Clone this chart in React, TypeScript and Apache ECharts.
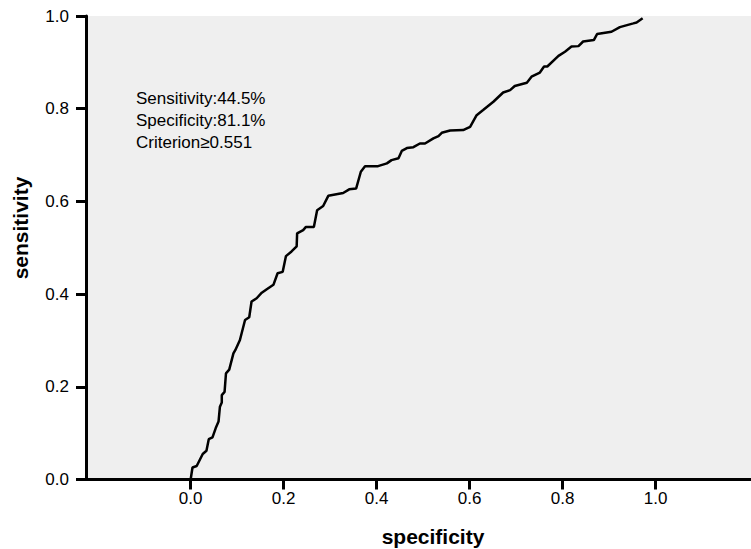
import React, { useEffect, useRef } from "react";
import * as echarts from "echarts";

const specificity: number[] = [
  0.0, 0.004, 0.013, 0.026, 0.034, 0.039, 0.047, 0.054, 0.06, 0.063, 0.067, 0.067, 0.073, 0.076, 0.083,
  0.092, 0.096, 0.106, 0.117, 0.126, 0.131, 0.142, 0.153, 0.163, 0.178, 0.187, 0.198, 0.205, 0.217,
  0.228, 0.229, 0.242, 0.248, 0.265, 0.272, 0.285, 0.296, 0.328, 0.341, 0.356, 0.366, 0.375, 0.403,
  0.422, 0.432, 0.447, 0.454, 0.465, 0.479, 0.493, 0.504, 0.522, 0.533, 0.54, 0.558, 0.586, 0.601,
  0.615, 0.629, 0.651, 0.672, 0.687, 0.697, 0.723, 0.733, 0.751, 0.76, 0.767, 0.791, 0.805, 0.819,
  0.834, 0.844, 0.867, 0.874, 0.905, 0.923, 0.952, 0.959, 0.972,
];
const sensitivity: number[] = [
  0.0, 0.026, 0.029, 0.055, 0.062, 0.087, 0.091, 0.111, 0.125, 0.157, 0.166, 0.182, 0.189, 0.229, 0.237,
  0.272, 0.279, 0.301, 0.344, 0.35, 0.384, 0.391, 0.403, 0.41, 0.42, 0.445, 0.448, 0.482, 0.492,
  0.503, 0.531, 0.538, 0.545, 0.545, 0.581, 0.59, 0.612, 0.618, 0.626, 0.628, 0.664, 0.676, 0.676,
  0.682, 0.689, 0.693, 0.709, 0.715, 0.717, 0.725, 0.725, 0.736, 0.741, 0.748, 0.753, 0.754, 0.761,
  0.786, 0.797, 0.815, 0.835, 0.84, 0.849, 0.856, 0.869, 0.878, 0.891, 0.891, 0.914, 0.923, 0.934,
  0.935, 0.945, 0.948, 0.961, 0.966, 0.976, 0.984, 0.986, 0.995,
];
const xTicks: number[] = [0, 0.2, 0.4, 0.6, 0.8, 1.0];
const annotationLines: string[] = ["Sensitivity:44.5%", "Specificity:81.1%", "Criterion\u22650.551"];
const xName = "specificity";
const yName = "sensitivity";

const FONT = "'Liberation Sans', Arial, sans-serif";

export default function App() {
  const ref = useRef<HTMLDivElement>(null);
  useEffect(() => {
    if (!ref.current) return;
    const chart = echarts.init(ref.current, undefined, { renderer: "svg" });
    const data = specificity.map((x, i) => [x, sensitivity[i]]);
    chart.setOption({
      animation: false,
      backgroundColor: "#ffffff",
      grid: {
        left: 86,
        right: 0,
        top: 16,
        bottom: 69.5,
        show: true,
        backgroundColor: "#efefef",
        borderWidth: 0,
      },
      xAxis: {
        type: "value",
        min: -0.225,
        max: 1.205,
        splitLine: { show: false },
        axisLine: { show: true, onZero: false, lineStyle: { color: "#000", width: 3 } },
        axisTick: {
          show: true,
          length: 10,
          customValues: xTicks,
          lineStyle: { color: "#000", width: 3 },
        },
        axisLabel: {
          customValues: xTicks,
          formatter: (v: number) => v.toFixed(1),
          color: "#000",
          fontSize: 17,
          fontFamily: FONT,
          margin: 10,
        },
      },
      yAxis: {
        type: "value",
        min: 0,
        max: 1,
        interval: 0.2,
        splitLine: { show: false },
        axisLine: { show: true, onZero: false, lineStyle: { color: "#000", width: 3 } },
        axisTick: { show: true, length: 10, lineStyle: { color: "#000", width: 3 } },
        axisLabel: {
          formatter: (v: number) => v.toFixed(1),
          color: "#000",
          fontSize: 17,
          fontFamily: FONT,
          margin: 17,
        },
      },
      series: [
        {
          type: "line",
          data,
          showSymbol: false,
          symbol: "none",
          lineStyle: { color: "#000", width: 2.5 },
          z: 5,
        },
      ],
      graphic: [
        {
          type: "text",
          left: 136,
          top: 87,
          style: {
            text: annotationLines.join("\n"),
            fontSize: 17,
            lineHeight: 22,
            fontFamily: FONT,
            fill: "#000",
          },
          z: 10,
        },
        {
          type: "text",
          x: 433,
          y: 536,
          style: {
            text: xName,
            fontSize: 21,
            fontWeight: "bold",
            fontFamily: FONT,
            fill: "#000",
            align: "center",
            verticalAlign: "middle",
          },
        },
        {
          type: "text",
          x: 20,
          y: 228,
          rotation: Math.PI / 2,
          style: {
            text: yName,
            fontSize: 21,
            fontWeight: "bold",
            fontFamily: FONT,
            fill: "#000",
            align: "center",
            verticalAlign: "middle",
          },
        },
      ],
    });
    return () => chart.dispose();
  }, []);
  return (
    <div
      ref={ref}
      style={{ position: "fixed", left: 0, top: 0, width: 751, height: 549 }}
    />
  );
}
